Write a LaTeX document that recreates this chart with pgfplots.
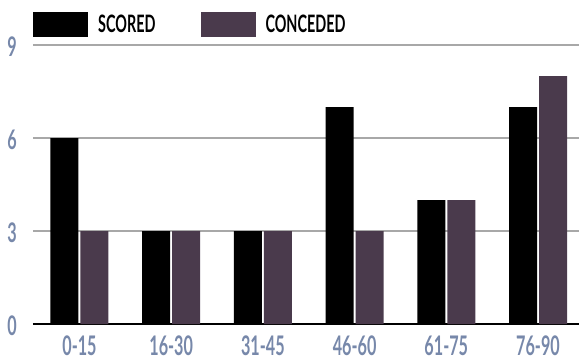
\documentclass[border=0pt]{standalone}
\usepackage{fontspec}
\setmainfont{Lato}[FakeStretch=0.6]
\usepackage{pgfplots}
\pgfplotsset{compat=1.18}
\definecolor{conc}{HTML}{4A3A4C}
\definecolor{ticklab}{HTML}{7788AA}
\definecolor{gridc}{HTML}{A8A8A8}
\begin{document}
\begin{tikzpicture}
\begin{axis}[
  at={(0pt,0pt)}, anchor=south west,
  scale only axis, width=546pt, height=279pt,
  xmin=-0.507, xmax=5.447, ymin=0, ymax=9,
  ybar=2pt, bar width=28pt,
  axis line style={draw=none},
  major tick length=0pt,
  xtick={0,1,2,3,4,5},
  xticklabels={0-15,16-30,31-45,46-60,61-75,76-90},
  ytick={3,6,9},
  extra y ticks={0},
  extra y tick style={grid style={black, line width=2pt}},
  ymajorgrids, grid style={gridc, line width=1.2pt},
  /pgf/number format/assume math mode=true,
  tick label style={font=\fontsize{27}{27}\selectfont\bfseries, text=ticklab, inner sep=0pt},
  xticklabel style={anchor=base, yshift=-31pt, text depth=0pt},
  yticklabel style={anchor=east, xshift=-16pt, yshift=-2pt},
  legend columns=2,
  legend style={draw=none, fill=none, at={(0,1)}, anchor=south west, yshift=8pt, xshift=0pt, inner sep=0pt,
    font=\fontsize{24}{24}\selectfont\bfseries,
    nodes={inner sep=0pt, anchor=base west},
    /tikz/every odd column/.append style={column sep=10pt},
    /tikz/every even column/.append style={column sep=45pt}},
  legend image code/.code={\fill[#1] (0pt,-4pt) rectangle (55pt,21pt);},
]
\addplot[fill=black, draw=none] coordinates {(0,6) (1,3) (2,3) (3,7) (4,4) (5,7)};
\addplot[fill=conc, draw=none] coordinates {(0,3) (1,3) (2,3) (3,3) (4,4) (5,8)};
\legend{SCORED, CONCEDED}
\end{axis}
\pgfresetboundingbox
\path[use as bounding box] (-33pt,-36pt) rectangle (546pt,324pt);
\end{tikzpicture}
\end{document}
